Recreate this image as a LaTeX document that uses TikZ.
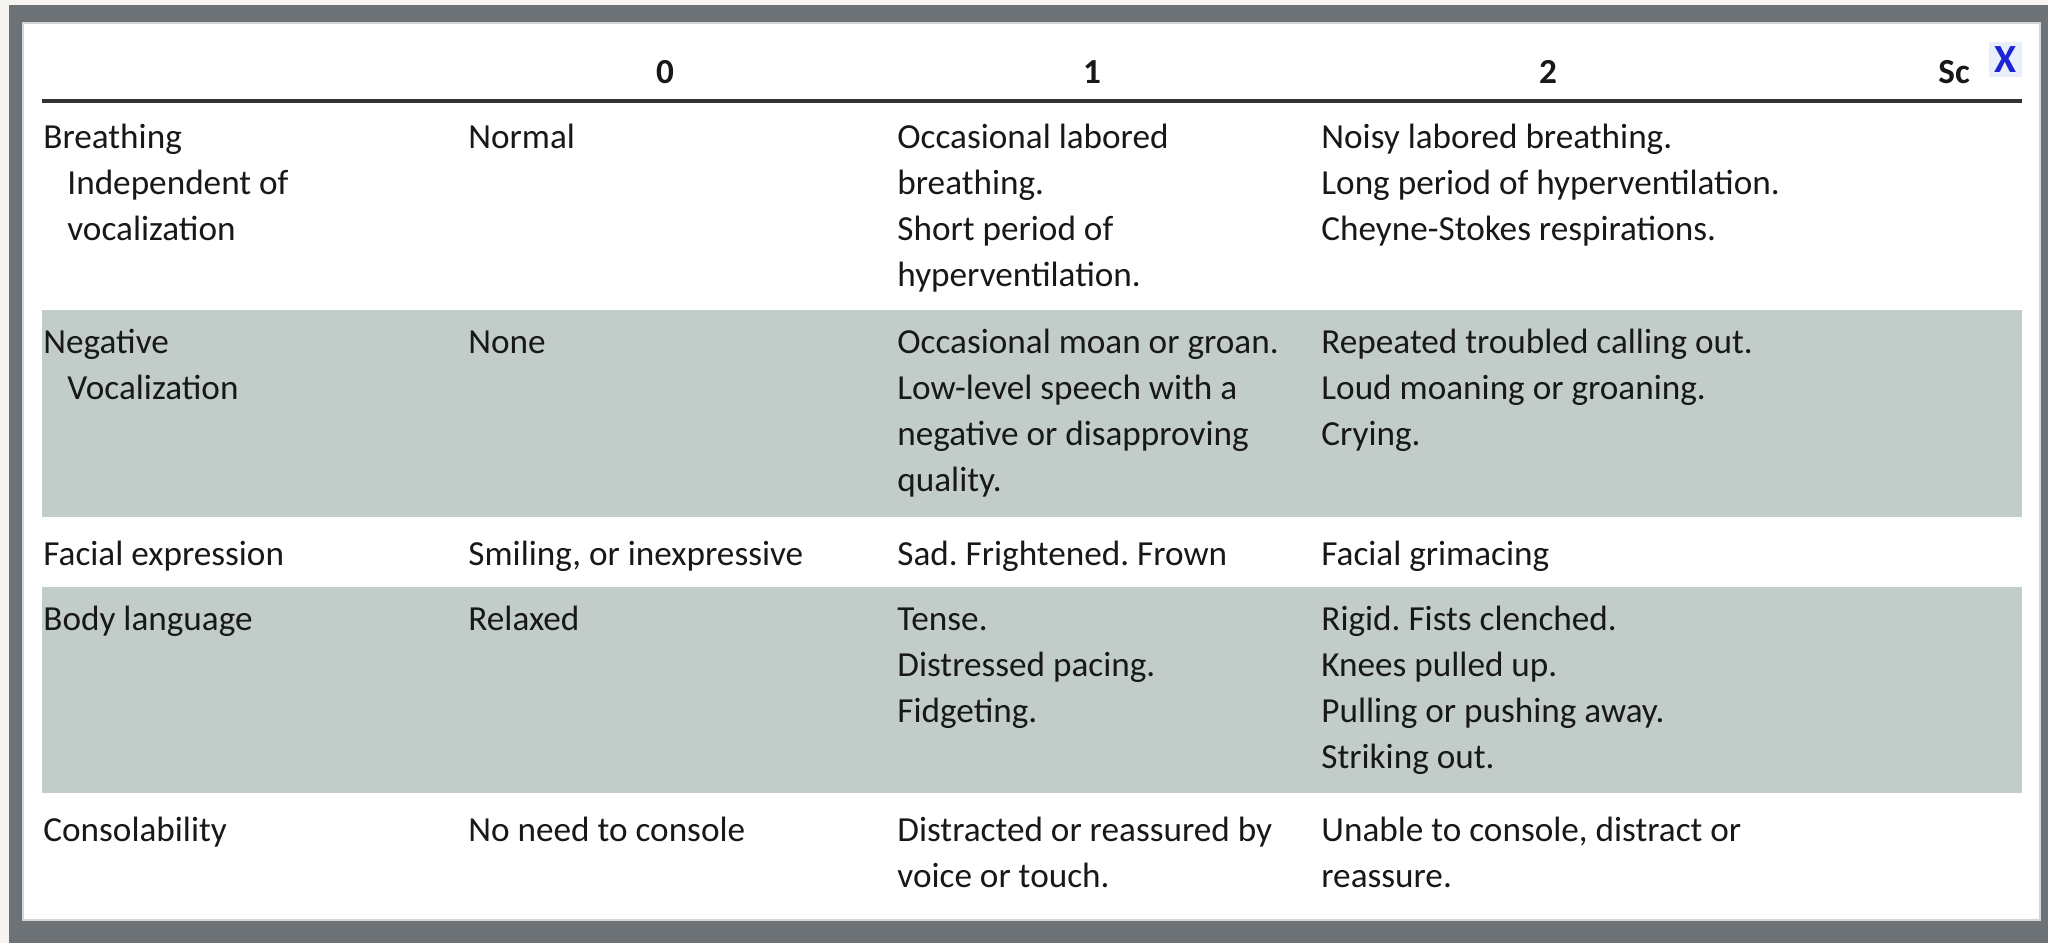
\documentclass[tikz,border=0pt]{standalone}
\usepackage{fontspec}
\setmainfont{Carlito}
\frenchspacing
\definecolor{paper}{RGB}{246,244,241}
\definecolor{framegray}{RGB}{108,114,118}
\definecolor{rowshade}{RGB}{194,205,202}
\definecolor{inktext}{RGB}{24,24,24}
\definecolor{closeblue}{RGB}{30,36,212}
\definecolor{closebg}{RGB}{232,238,250}
\tikzset{
  cell/.style={anchor=north west,inner sep=0pt,align=left,text=inktext,
    font=\fontsize{17.6}{23}\selectfont},
  head/.style={anchor=base,inner sep=0pt,text=inktext,
    font=\fontsize{17.6}{23}\selectfont\bfseries},
}
\newcommand{\ind}{\hspace*{12pt}}
\begin{document}
\begin{tikzpicture}[x=0.5pt,y=-0.5pt]
\useasboundingbox (0,0) rectangle (2048,943);
%% frame and panel
\fill[paper] (0,0) rectangle (2048,943);
\fill[framegray] (9,5) rectangle (2048,943);
\filldraw[fill=white,draw=framegray!30,line width=0.8pt] (23,23) rectangle (2040,920);
%% shaded rows
\fill[rowshade] (42,310) rectangle (2022,517);
\fill[rowshade] (42,587) rectangle (2022,793);
%% header
\node[head] (h0) at (665,83) {0};
\node[head] (h1) at (1092,83) {1};
\node[head] (h2) at (1548,83) {2};
\node[head,anchor=base west] (hsc) at (1938,83) {Sc};
\fill[closebg] (1989,42) rectangle (2022,77);
\node[inner sep=0pt,text=closeblue,font=\fontsize{20}{20}\selectfont\bfseries] (close) at (2005.5,60) {X};
\draw[line width=2pt,color=black!80] (42,100.5) -- (2022,100.5);
%% breathing
\node[cell] (breath) at (43,115.8) {\strut Breathing\\\ind Independent of\\\ind vocalization};
\node[cell] (breath0) at (468,115.8) {\strut Normal};
\node[cell] (breath1) at (897,115.8) {\strut Occasional labored\\breathing.\\Short period of\\hyperventilation.};
\node[cell] (breath2) at (1321,115.8) {\strut Noisy labored breathing.\\Long period of hyperventilation.\\Cheyne-Stokes respirations.};
%% vocalization
\node[cell] (voc) at (43,320.8) {\strut Negative\\\ind Vocalization};
\node[cell] (voc0) at (468,320.8) {\strut None};
\node[cell] (voc1) at (897,320.8) {\strut Occasional moan or groan.\\Low-level speech with a\\negative or disapproving\\quality.};
\node[cell] (voc2) at (1321,320.8) {\strut Repeated troubled calling out.\\Loud moaning or groaning.\\Crying.};
%% face
\node[cell] (face) at (43,532.8) {\strut Facial expression};
\node[cell] (face0) at (468,532.8) {\strut Smiling, or inexpressive};
\node[cell] (face1) at (897,532.8) {\strut Sad. Frightened. Frown};
\node[cell] (face2) at (1321,532.8) {\strut Facial grimacing};
%% body
\node[cell] (body) at (43,597.8) {\strut Body language};
\node[cell] (body0) at (468,597.8) {\strut Relaxed};
\node[cell] (body1) at (897,597.8) {\strut Tense.\\Distressed pacing.\\Fidgeting.};
\node[cell] (body2) at (1321,597.8) {\strut Rigid. Fists clenched.\\Knees pulled up.\\Pulling or pushing away.\\Striking out.};
%% consolability
\node[cell] (cons) at (43,808.8) {\strut Consolability};
\node[cell] (cons0) at (468,808.8) {\strut No need to console};
\node[cell] (cons1) at (897,808.8) {\strut Distracted or reassured by\\voice or touch.};
\node[cell] (cons2) at (1321,808.8) {\strut Unable to console, distract or\\reassure.};
\end{tikzpicture}
\end{document}
